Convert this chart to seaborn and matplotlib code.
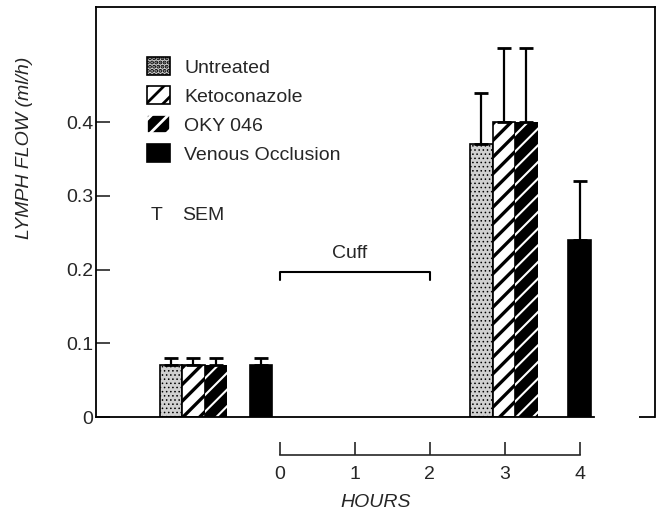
import numpy as np
import pandas as pd
import matplotlib
matplotlib.use("Agg")
import matplotlib.pyplot as plt
from matplotlib.patches import Patch
import seaborn as sns

# --- values ---
treatments = ["Untreated", "Ketoconazole", "OKY 046", "Venous Occlusion"]
bar_hour = [-1.45, -1.15, -0.85, -0.25, 2.69, 2.99, 3.29, 4.0]
bar_group = treatments * 2
flow = [0.07, 0.07, 0.07, 0.07, 0.37, 0.40, 0.40, 0.24]
sem = [0.01, 0.01, 0.01, 0.01, 0.07, 0.10, 0.10, 0.08]
hour_ticks = [0, 1, 2, 3, 4]
flow_ticks = [0, 0.1, 0.2, 0.3, 0.4]
flow_labels = ["0", "0.1", "0.2", "0.3", "0.4"]
cuff_hours = (0, 2)

df = pd.DataFrame({"hour": bar_hour, "treatment": bar_group,
                   "flow": flow, "sem": sem})

sns.set_style("white")
plt.rcParams["font.family"] = ["Liberation Sans", "DejaVu Sans"]
plt.rcParams["hatch.linewidth"] = 2.0
FS = 14

styles = {
    "Untreated": dict(facecolor="#d0d0d0", edgecolor="black", hatch="...."),
    "Ketoconazole": dict(facecolor="white", edgecolor="black", hatch="//"),
    "OKY 046": dict(facecolor="black", edgecolor="white", hatch="//"),
    "Venous Occlusion": dict(facecolor="black", edgecolor="black", hatch=None),
}
hatch_lw = {"Untreated": 0.6, "Ketoconazole": 2.4, "OKY 046": 1.5, "Venous Occlusion": 1.0}

fig = plt.figure(figsize=(6.62, 5.13), dpi=100)
ax = fig.add_axes([0.145, 0.187, 0.844, 0.799])

sns.barplot(data=df, x="hour", y="flow", hue="treatment", hue_order=treatments,
            native_scale=True, dodge=False, width=1.0, errorbar=None,
            legend=False, ax=ax)

# restyle bars: match each patch to its row by centre position
for p in ax.patches:
    cx = p.get_x() + p.get_width() / 2
    i = int(np.argmin(np.abs(df["hour"].values - cx)))
    t = df["treatment"].iloc[i]
    st = styles[t]
    p.set_facecolor(st["facecolor"])
    p.set_edgecolor(st["edgecolor"])
    p.set_hatch(st["hatch"])
    p.set_linewidth(0 if t == "OKY 046" else 1.2)
    if hasattr(p, "set_hatch_linewidth"):
        p.set_hatch_linewidth(hatch_lw[t])

ax.errorbar(df["hour"], df["flow"], yerr=[np.zeros(len(df)), df["sem"]],
            fmt="none", ecolor="black", elinewidth=1.6, capsize=5, capthick=2,
            zorder=1)

ax.set_xlim(-2.45, 5.0)
ax.set_ylim(0, 0.556)

# axes frame
for s in ax.spines.values():
    s.set_linewidth(1.3)
    s.set_color("black")
right_edge = df["hour"].iloc[-1] + 0.19
ax.spines["bottom"].set_bounds(-2.45, right_edge)
ax.plot([4.79, 5.0], [0, 0], color="black", lw=1.3, clip_on=False,
        solid_capstyle="butt")

ax.set_xticks([])
ax.set_xlabel("")
ax.set_yticks(flow_ticks)
ax.set_yticklabels(flow_labels, fontsize=FS)
ax.tick_params(axis="y", direction="in", length=10, width=1.2, pad=2, left=True)
ax.set_ylabel("LYMPH FLOW (ml/h)", fontsize=FS, style="italic")
ax.yaxis.set_label_coords(-0.113, 0.656)

# hours axis below the plot
sec = ax.secondary_xaxis(-0.093)
sec.set_xticks(hour_ticks)
sec.set_xticklabels([str(h) for h in hour_ticks], fontsize=FS)
sec.spines["bottom"].set_bounds(hour_ticks[0], hour_ticks[-1])
sec.spines["bottom"].set_linewidth(1.2)
sec.tick_params(direction="in", length=9.5, width=1.2, pad=8)
sec.set_xlabel("HOURS", fontsize=FS, style="italic", labelpad=8)

# cuff bracket
yb, yd = 0.197, 0.186
ax.plot([cuff_hours[0], cuff_hours[0], cuff_hours[1], cuff_hours[1]],
        [yd, yb, yb, yd], color="black", lw=1.5)
ax.text(np.mean(cuff_hours) - 0.07, 0.211, "Cuff", ha="center", va="bottom", fontsize=FS)

# SEM key
ax.text(-1.64, 0.274, "T", ha="center", va="center", fontsize=FS)
ax.text(-1.30, 0.274, "SEM", ha="left", va="center", fontsize=FS)

handles = [Patch(label=t, facecolor=styles[t]["facecolor"],
                 edgecolor="black" if t != "OKY 046" else "white",
                 hatch=styles[t]["hatch"], linewidth=1.2) for t in treatments]
ax.legend(handles=handles, loc="upper left", bbox_to_anchor=(0.077, 0.897),
          frameon=False, fontsize=FS, handlelength=1.18, handleheight=1.03,
          labelspacing=0.49, handletextpad=0.75, borderaxespad=0)

fig.savefig("out.png", dpi=100)
